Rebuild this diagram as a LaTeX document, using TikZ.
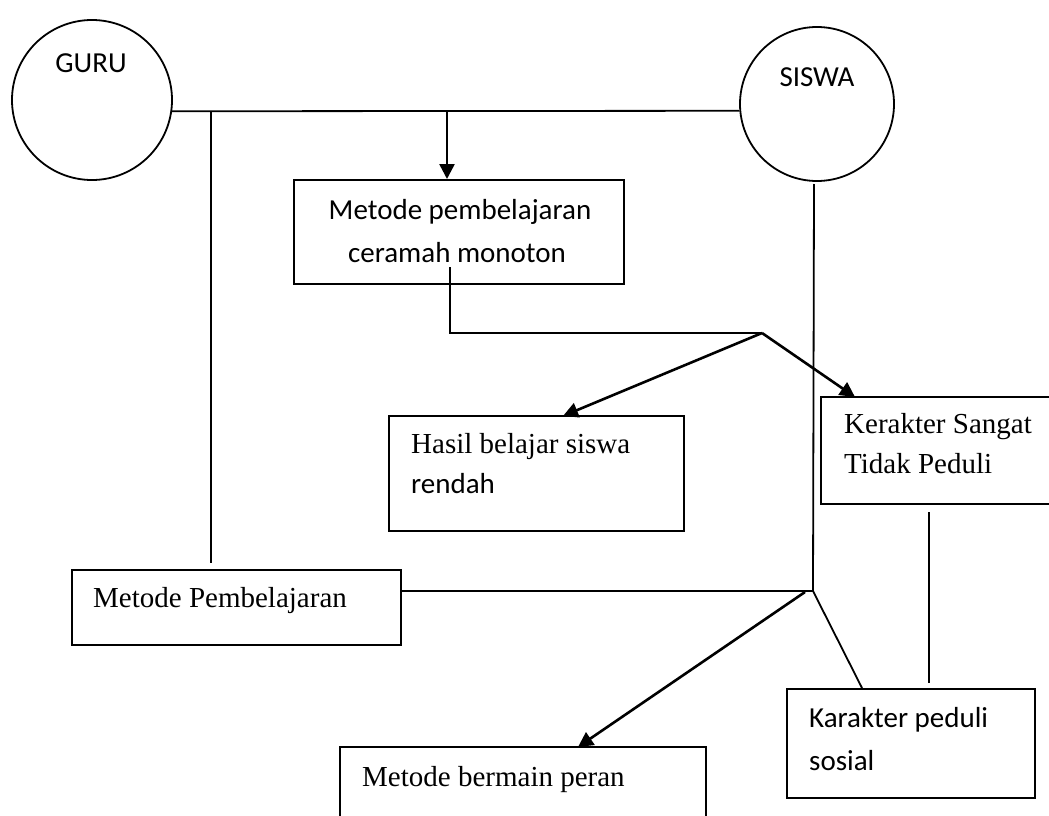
\documentclass[tikz,border=0pt]{standalone}
\usepackage{fontspec}
\setmainfont{Liberation Serif}
\newfontfamily\sansf{Carlito}
\usetikzlibrary{arrows.meta}
\tikzset{
  ln/.style={line width=1.8pt, black},
  arr/.style={line width=2.6pt, black, -{Triangle[length=15pt,width=15pt]}},
  boxn/.style={draw, line width=2pt, rectangle, inner sep=0pt},
  circn/.style={draw, line width=1.8pt, circle, inner sep=0pt},
  serift/.style={inner sep=0pt, font={\fontsize{29}{36}\selectfont}},
  sanst/.style={inner sep=0pt, font={\sansf\fontsize{29}{36}\selectfont}}
}
\begin{document}
\begin{tikzpicture}[x=1pt,y=-1pt]
\clip (0,0) rectangle (1049,816);
\fill[white] (0,0) rectangle (1049,816);
% circles
\node[circn, minimum size=160pt] (guru) at (92,100) {};
\node[sanst, anchor=base] (guruT) at (91,73) {GURU};
\node[circn, minimum size=154pt] (siswa) at (817,104) {};
\node[sanst, anchor=base] (siswaT) at (817,86) {SISWA};
% boxes
\node[boxn, minimum width=330pt, minimum height=104pt] (ceramah) at (459,232) {};
\node[sanst, anchor=base] (ceramahA) at (460,219) {Metode pembelajaran};
\node[sanst, anchor=base] (ceramahB) at (457,262) {ceramah monoton};
\node[boxn, minimum width=295pt, minimum height=115pt] (hasil) at (536.5,473.5) {};
\node[serift, anchor=base west] (hasilA) at (411,453) {Hasil belajar siswa};
\node[sanst, anchor=base west] (hasilB) at (411,493) {rendah};
\node[boxn, minimum width=240pt, minimum height=107pt] (kerakter) at (941,450.5) {};
\node[serift, anchor=base west] (kerA) at (844,433) {Kerakter Sangat};
\node[serift, anchor=base west] (kerB) at (844,473) {Tidak Peduli};
\node[boxn, minimum width=329pt, minimum height=75pt] (mp) at (236.5,607.5) {};
\node[serift, anchor=base west] (mpT) at (93,607) {Metode Pembelajaran};
\node[boxn, minimum width=248pt, minimum height=109pt] (peduli) at (911,743.5) {};
\node[sanst, anchor=base west] (peduliA) at (809,727) {Karakter peduli};
\node[sanst, anchor=base west] (peduliB) at (809,770) {sosial};
\node[boxn, minimum width=366pt, minimum height=100pt] (bermain) at (523,797) {};
\node[serift, anchor=base west] (bermainT) at (362,786) {Metode bermain peran};
% coordinates
\coordinate (g1) at (211,111);
\coordinate (g2) at (211,563);
\coordinate (a1) at (447,111);
\coordinate (c1) at (450,267);
\coordinate (jA) at (762,333);
\coordinate (tH) at (563,416);
\coordinate (tK) at (855,397);
\coordinate (s1) at (814,184);
\coordinate (jB) at (813,591);
\coordinate (jB2) at (805,592);
\coordinate (tP) at (862,688);
\coordinate (tB) at (578,747);
\coordinate (k1) at (929,512);
\coordinate (k2) at (929,683);
% connectors
\draw[ln] (guru.-8) -- (siswa.185);
\draw[ln] (g1) -- (g2);
\draw[arr] (a1) -- (a1 |- ceramah.north);
\draw[ln] (c1) |- (jA);
\draw[arr] (jA) -- (tH);
\draw[arr] (jA) -- (tK);
\draw[ln] (s1) -- (jB);
\draw[ln] (mp.east |- jB) -- (jB);
\draw[ln] (jB) -- (tP);
\draw[arr] (jB2) -- (tB);
\draw[ln] (k1) -- (k2);
\end{tikzpicture}
\end{document}
